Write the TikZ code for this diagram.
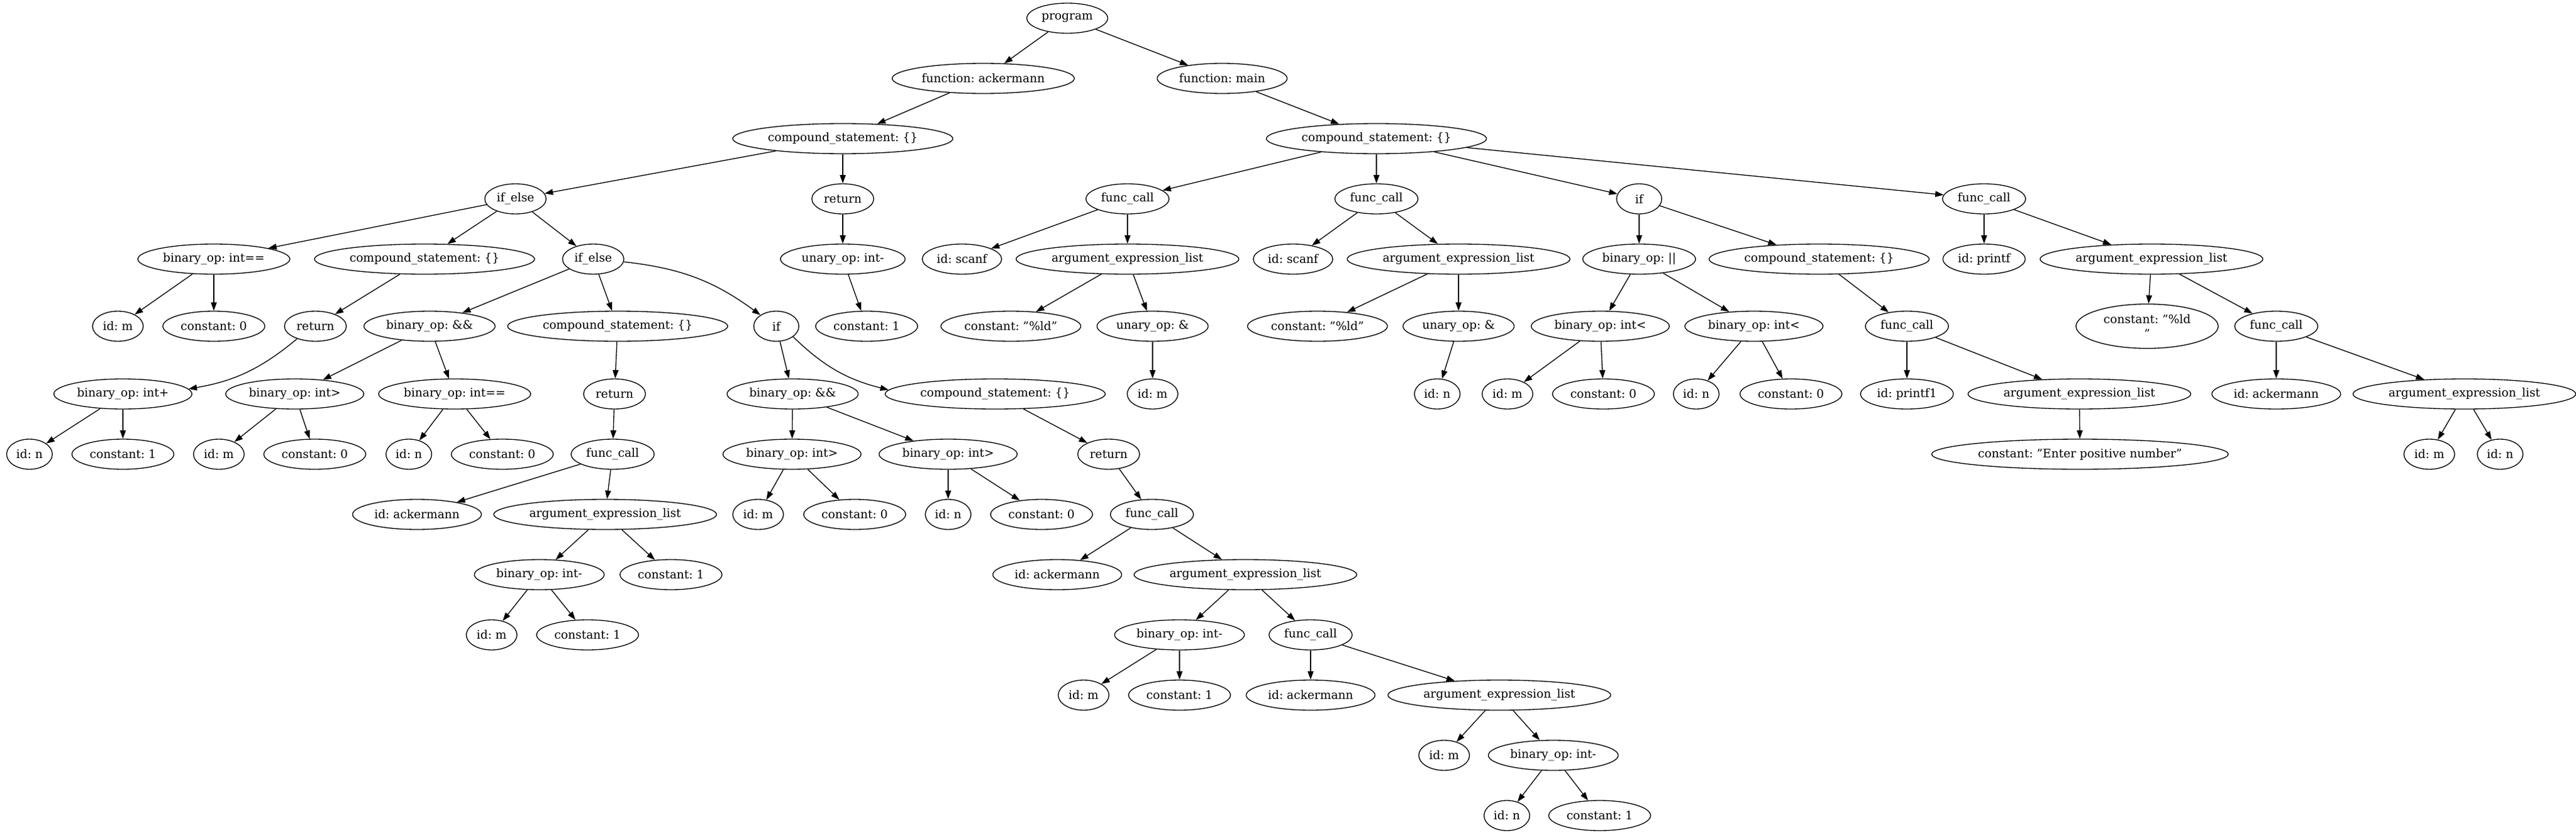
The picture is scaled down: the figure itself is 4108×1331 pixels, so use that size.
\documentclass[tikz,border=0pt]{standalone}
\usepackage{fontspec}
\setmainfont{DejaVu Serif}
\usetikzlibrary{arrows.meta,shapes.geometric}
\tikzset{every path/.style={line width=1 pt}}
\begin{document}
\begin{tikzpicture}[x=0.75pt,y=-0.75pt,
  ast/.style={draw,ellipse,inner xsep=3.5pt,inner ysep=2pt,minimum width=54pt,minimum height=36pt,font=\fontsize{14pt}{16.8pt}\selectfont\frenchspacing},
  arr/.style={-{Triangle[length=10pt,width=7pt]}}]
\useasboundingbox (0,0) rectangle (4108,1331);
% rank 0-2
\node[ast] (prog) at (1702,29) {program};
\node[ast] (fack) at (1568,125) {function: ackermann};
\node[ast] (fmain) at (1949,125) {function: main};
\node[ast] (cs1) at (1344,221) {compound\_statement: \{\}};
\node[ast] (cs2) at (2195,221) {compound\_statement: \{\}};
% rank 3
\node[ast] (ife1) at (822,317) {if\_else};
\node[ast] (ret1) at (1344,317) {return};
\node[ast] (fc1) at (1798,317) {func\_call};
\node[ast] (fc2) at (2195,317) {func\_call};
\node[ast] (if1) at (2614,317) {if};
\node[ast] (fc3) at (3164,317) {func\_call};
% rank 4
\node[ast] (eq1) at (341,413) {binary\_op: int==};
\node[ast] (cs3) at (677,413) {compound\_statement: \{\}};
\node[ast] (ife2) at (946,413) {if\_else};
\node[ast] (un1) at (1344,413) {unary\_op: int-};
\node[ast] (sc1) at (1534,413) {id: scanf};
\node[ast] (al1) at (1798,413) {argument\_expression\_list};
\node[ast] (sc2) at (2062,413) {id: scanf};
\node[ast] (al2) at (2326,413) {argument\_expression\_list};
\node[ast] (or1) at (2614,413) {binary\_op: \textbar\textbar};
\node[ast] (cs4) at (2901,413) {compound\_statement: \{\}};
\node[ast] (pf) at (3164,413) {id: printf};
\node[ast] (al3) at (3431,413) {argument\_expression\_list};
% rank 5
\node[ast] (m1) at (188,520) {id: m};
\node[ast] (c01) at (341,520) {constant: 0};
\node[ast] (ret2) at (503,520) {return};
\node[ast] (and1) at (685,520) {binary\_op: \&\&};
\node[ast] (cs5) at (985,520) {compound\_statement: \{\}};
\node[ast] (if2) at (1238,520) {if};
\node[ast] (c11) at (1382,520) {constant: 1};
\node[ast] (fmt1) at (1612,520) {constant: "\%ld"};
\node[ast] (ref1) at (1838,520) {unary\_op: \&};
\node[ast] (fmt2) at (2101,520) {constant: "\%ld"};
\node[ast] (ref2) at (2326,520) {unary\_op: \&};
\node[ast] (lt1) at (2552,520) {binary\_op: int\textless};
\node[ast] (lt2) at (2797,520) {binary\_op: int\textless};
\node[ast] (fc4) at (3041,520) {func\_call};
\node[ast,align=center,minimum width=170pt,minimum height=53pt] (fmt3) at (3424,520) {constant: "\%ld\\"};
\node[ast] (fc5) at (3630,520) {func\_call};
% rank 6
\node[ast] (add1) at (196,628) {binary\_op: int+};
\node[ast] (gt1) at (470,628) {binary\_op: int\textgreater};
\node[ast] (eq2) at (725,628) {binary\_op: int==};
\node[ast] (ret3) at (980,628) {return};
\node[ast] (and2) at (1264,628) {binary\_op: \&\&};
\node[ast] (cs6) at (1587,628) {compound\_statement: \{\}};
\node[ast] (m2) at (1838,628) {id: m};
\node[ast] (n1) at (2292,628) {id: n};
\node[ast] (m3) at (2404,628) {id: m};
\node[ast] (c02) at (2557,628) {constant: 0};
\node[ast] (n2) at (2705,628) {id: n};
\node[ast] (c03) at (2856,628) {constant: 0};
\node[ast] (pf1) at (3041,628) {id: printf1};
\node[ast] (al4) at (3316,628) {argument\_expression\_list};
\node[ast] (ack1) at (3630,628) {id: ackermann};
\node[ast] (al5) at (3930,628) {argument\_expression\_list};
% rank 7
\node[ast] (n3) at (47,724) {id: n};
\node[ast] (c12) at (196,724) {constant: 1};
\node[ast] (m4) at (349,724) {id: m};
\node[ast] (c04) at (502,724) {constant: 0};
\node[ast] (n4) at (652,724) {id: n};
\node[ast] (c05) at (801,724) {constant: 0};
\node[ast] (fc6) at (977,724) {func\_call};
\node[ast] (gt2) at (1263,724) {binary\_op: int\textgreater};
\node[ast] (gt3) at (1512,724) {binary\_op: int\textgreater};
\node[ast] (ret4) at (1768,724) {return};
\node[ast] (msg) at (3317,724) {constant: "Enter positive number"};
\node[ast] (m5) at (3874,724) {id: m};
\node[ast] (n5) at (3987,724) {id: n};
% rank 8
\node[ast] (ack2) at (665,820) {id: ackermann};
\node[ast] (al6) at (965,820) {argument\_expression\_list};
\node[ast] (m6) at (1209,820) {id: m};
\node[ast] (c06) at (1363,820) {constant: 0};
\node[ast] (n6) at (1512,820) {id: n};
\node[ast] (c07) at (1661,820) {constant: 0};
\node[ast] (fc7) at (1837,820) {func\_call};
% rank 9
\node[ast] (sub1) at (860,916) {binary\_op: int-};
\node[ast] (c13) at (1070,916) {constant: 1};
\node[ast] (ack3) at (1686,916) {id: ackermann};
\node[ast] (al7) at (1986,916) {argument\_expression\_list};
% rank 10
\node[ast] (m7) at (784,1012) {id: m};
\node[ast] (c14) at (937,1012) {constant: 1};
\node[ast] (sub2) at (1881,1012) {binary\_op: int-};
\node[ast] (fc8) at (2090,1012) {func\_call};
% rank 11
\node[ast] (m8) at (1728,1108) {id: m};
\node[ast] (c15) at (1881,1108) {constant: 1};
\node[ast] (ack4) at (2090,1108) {id: ackermann};
\node[ast] (al8) at (2391,1108) {argument\_expression\_list};
% rank 12-13
\node[ast] (m9) at (2303,1204) {id: m};
\node[ast] (sub3) at (2477,1204) {binary\_op: int-};
\node[ast] (n7) at (2403,1300) {id: n};
\node[ast] (c16) at (2551,1300) {constant: 1};
% edges
\draw[arr] (prog) edge (fack) edge (fmain);
\draw[arr] (fack) edge (cs1);
\draw[arr] (fmain) edge (cs2);
\draw[arr] (cs1) edge (ife1) edge (ret1);
\draw[arr] (cs2) edge (fc1) edge (fc2) edge (if1) edge (fc3);
\draw[arr] (ife1) edge (eq1) edge (cs3) edge (ife2);
\draw[arr] (ret1) edge (un1);
\draw[arr] (fc1) edge (sc1) edge (al1);
\draw[arr] (fc2) edge (sc2) edge (al2);
\draw[arr] (if1) edge (or1) edge (cs4);
\draw[arr] (fc3) edge (pf) edge (al3);
\draw[arr] (eq1) edge (m1) edge (c01);
\draw[arr] (cs3) edge (ret2);
\draw[arr] (ife2) edge (and1) edge (cs5) edge[bend left=15] (if2);
\draw[arr] (un1) edge (c11);
\draw[arr] (al1) edge (fmt1) edge (ref1);
\draw[arr] (al2) edge (fmt2) edge (ref2);
\draw[arr] (or1) edge (lt1) edge (lt2);
\draw[arr] (cs4) edge (fc4);
\draw[arr] (al3) edge (fmt3) edge (fc5);
\draw[arr] (ret2) edge[bend left=15] (add1);
\draw[arr] (and1) edge (gt1) edge (eq2);
\draw[arr] (cs5) edge (ret3);
\draw[arr] (if2) edge (and2) edge[bend right=15] (cs6);
\draw[arr] (ref1) edge (m2);
\draw[arr] (ref2) edge (n1);
\draw[arr] (lt1) edge (m3) edge (c02);
\draw[arr] (lt2) edge (n2) edge (c03);
\draw[arr] (fc4) edge (pf1) edge (al4);
\draw[arr] (fc5) edge (ack1) edge (al5);
\draw[arr] (add1) edge (n3) edge (c12);
\draw[arr] (gt1) edge (m4) edge (c04);
\draw[arr] (eq2) edge (n4) edge (c05);
\draw[arr] (ret3) edge (fc6);
\draw[arr] (and2) edge (gt2) edge (gt3);
\draw[arr] (cs6) edge (ret4);
\draw[arr] (al4) edge (msg);
\draw[arr] (al5) edge (m5) edge (n5);
\draw[arr] (fc6) edge (ack2) edge (al6);
\draw[arr] (gt2) edge (m6) edge (c06);
\draw[arr] (gt3) edge (n6) edge (c07);
\draw[arr] (ret4) edge (fc7);
\draw[arr] (al6) edge (sub1) edge (c13);
\draw[arr] (fc7) edge (ack3) edge (al7);
\draw[arr] (sub1) edge (m7) edge (c14);
\draw[arr] (al7) edge (sub2) edge (fc8);
\draw[arr] (sub2) edge (m8) edge (c15);
\draw[arr] (fc8) edge (ack4) edge (al8);
\draw[arr] (al8) edge (m9) edge (sub3);
\draw[arr] (sub3) edge (n7) edge (c16);
\end{tikzpicture}
\end{document}
